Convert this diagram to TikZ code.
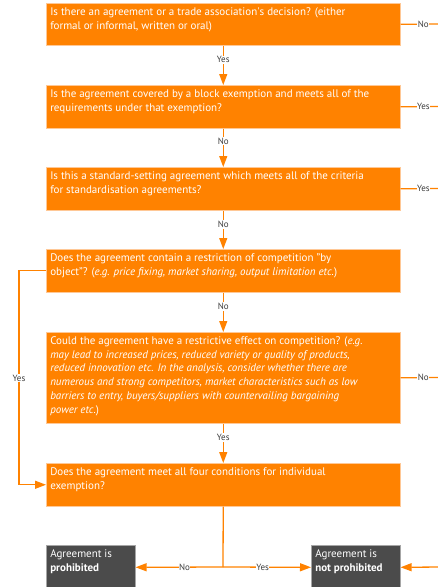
\documentclass[tikz,border=0pt]{standalone}
\usepackage{fontspec}
\setmainfont{PT Sans}
\usetikzlibrary{arrows.meta}
\definecolor{org}{RGB}{255,130,0}
\definecolor{orgedge}{RGB}{255,200,150}
\definecolor{lbl}{RGB}{60,60,60}
\definecolor{dk}{RGB}{75,75,75}
\newcommand\qtxt[3]{\parbox[c][#1][t]{#2}{\raggedright\vspace*{4.5pt}#3}}
\tikzset{
  qbox/.style={fill=org, draw=orgedge, line width=0.5pt, anchor=north west, inner xsep=4pt, inner ysep=0pt, text=white, font=\fontsize{11}{13.7}\selectfont},
  dbox/.style={fill=dk, draw=black!35, line width=0.6pt, anchor=north west, inner xsep=4pt, inner ysep=0pt, text=white, font=\fontsize{11}{13.7}\selectfont},
  lab/.style={fill=white, text=lbl, font=\fontsize{9}{10}\selectfont, inner xsep=0.5pt, inner ysep=1pt},
  link/.style={draw=org, line width=1.3pt},
  arr/.style={link, -{Triangle[length=11pt,width=8pt]}},
}
\begin{document}
\begin{tikzpicture}[x=1pt,y=-1pt]
\useasboundingbox (0,0) rectangle (438,587);
\node[qbox] (b1) at (46,3) {\qtxt{42pt}{346pt}{Is there an agreement or a trade association\textquotesingle s decision? (either\\formal or informal, written or oral)}};
\node[qbox] (b2) at (46,85) {\qtxt{43pt}{346pt}{Is the agreement covered by a block exemption and meets all of the\\requirements under that exemption?}};
\node[qbox] (b3) at (46,167) {\qtxt{43pt}{346pt}{Is this a standard-setting agreement which meets all of the criteria\\for standardisation agreements?}};
\node[qbox] (b4) at (46,249) {\qtxt{43pt}{346pt}{Does the agreement contain a restriction of competition "by\\object"? (\textit{e.g. price fixing, market sharing, output limitation etc.})}};
\node[qbox] (b5) at (46,332) {\qtxt{91pt}{346pt}{Could the agreement have a restrictive effect on competition? (\textit{e.g.}\\\textit{may lead to increased prices, reduced variety or quality of products,}\\\textit{reduced innovation etc. In the analysis, consider whether there are}\\\textit{numerous and strong competitors, market characteristics such as low}\\\textit{barriers to entry, buyers/suppliers with countervailing bargaining}\\\textit{power etc.})}};
\node[qbox] (b6) at (46,463) {\qtxt{43pt}{346pt}{Does the agreement meet all four conditions for individual\\exemption?}};
\node[dbox] (pr) at (46,545) {\qtxt{44pt}{81pt}{Agreement is\\\textbf{prohibited}}};
\node[dbox] (np) at (311,545) {\qtxt{44pt}{81pt}{Agreement is\\\textbf{not prohibited}}};
% right-hand exits
\coordinate (r1) at (442,24);
\coordinate (r2) at (442,106.5);
\coordinate (r3) at (442,188.5);
\coordinate (r5) at (442,377.5);
\coordinate (r6) at (442,567);
\coordinate (lx) at (19,378);
\coordinate (jn) at (223,567);
% down arrows
\draw[arr] (b1.south) -- node[lab,pos=0.36]{Yes} (b2.north);
\draw[arr] (b2.south) -- node[lab,pos=0.33]{No} (b3.north);
\draw[arr] (b3.south) -- node[lab,pos=0.36]{No} (b4.north);
\draw[arr] (b4.south) -- node[lab,pos=0.35]{No} (b5.north);
\draw[arr] (b5.south) -- node[lab,pos=0.35]{Yes} (b6.north);
% right exits
\draw[link] (b1.east) -- node[lab,pos=0.55]{No} (r1);
\draw[link] (b2.east) -- node[lab,pos=0.55]{Yes} (r2);
\draw[link] (b3.east) -- node[lab,pos=0.55]{Yes} (r3);
\draw[link] (b5.east) -- node[lab,pos=0.55]{No} (r5);
\draw[arr] (r6) -- (np.east);
% left loop
\draw[arr] (b4.west) -| (lx) |- (b6.west);
\node[lab] at (lx) {Yes};
% bottom split
\draw[link] (b6.south) -- (jn);
\draw[arr] (jn) -- node[lab,pos=0.44]{No} (pr.east);
\draw[arr] (jn) -- node[lab,pos=0.45]{Yes} (np.west);
\end{tikzpicture}
\end{document}
